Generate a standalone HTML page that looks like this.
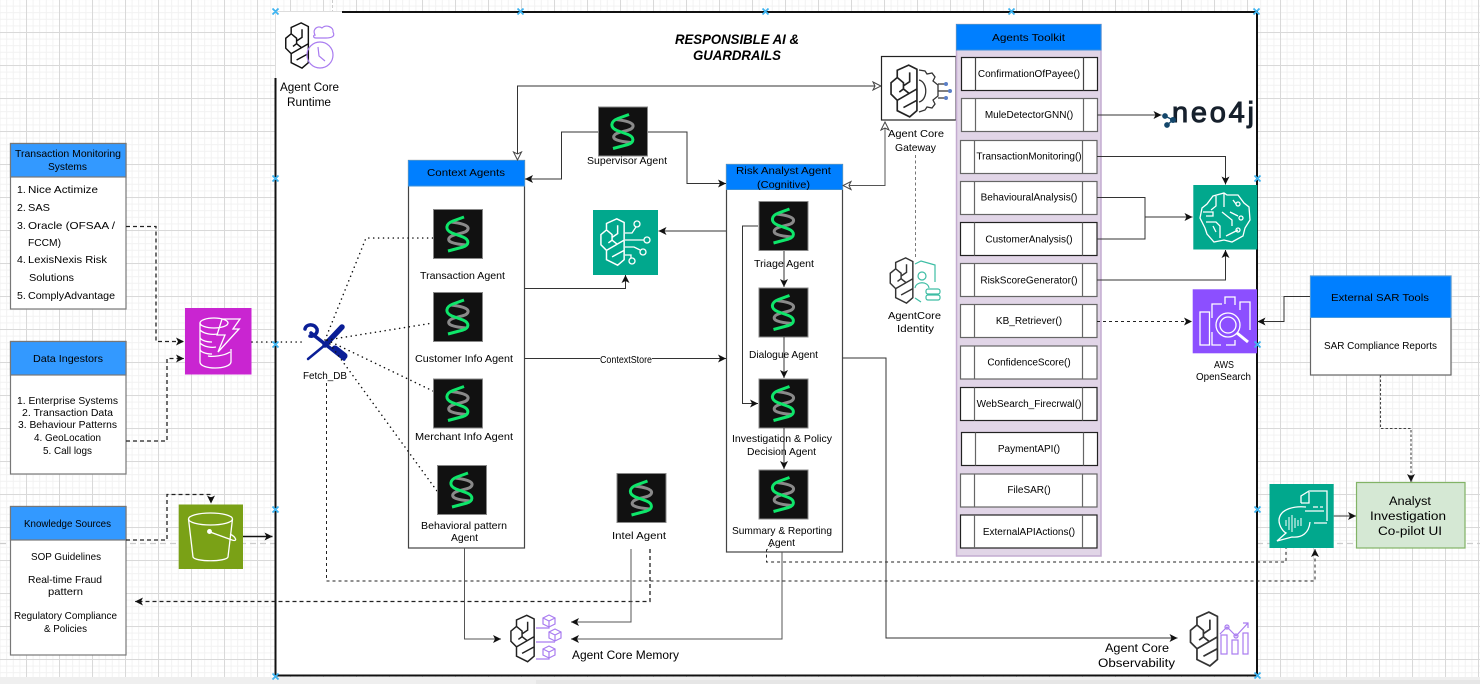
<!DOCTYPE html>
<html><head><meta charset="utf-8"><style>
html,body{margin:0;padding:0;background:#fff;width:1480px;height:684px;overflow:hidden}
svg{display:block}
text{font-family:"Liberation Sans",sans-serif;font-size:10.5px;fill:#000}
.a{font-size:10px}
.c{stroke:#333;stroke-width:1;fill:none}
.h{stroke:#555;stroke-width:1;fill:none}
.d{stroke:#222;stroke-width:1;stroke-dasharray:3 3;fill:none}
.d2{stroke:#222;stroke-width:1.3;stroke-dasharray:4 3;fill:none}
.dot{stroke:#111;stroke-width:1.5;stroke-dasharray:0.1 4.8;stroke-linecap:round;fill:none}
.w{stroke:#fff;stroke-width:1.3;fill:none}
.p{stroke:#a97cf0;stroke-width:1.2;fill:none}
.tg{fill:#fff;stroke:#666;stroke-width:1.2}
</style></head><body>
<svg width="1480" height="684" viewBox="0 0 1480 684" xmlns="http://www.w3.org/2000/svg">
<defs>
<pattern id="minor" patternUnits="userSpaceOnUse" x="26" y="-1" width="6.6" height="6.6"><rect width="6.6" height="1" fill="#f2f2f2"/><rect width="1" height="6.6" fill="#f2f2f2"/></pattern>
<pattern id="major" patternUnits="userSpaceOnUse" x="26" y="-1" width="33" height="33"><rect width="33" height="1" fill="#d9d9d9"/><rect width="1" height="33" fill="#d9d9d9"/></pattern>
<marker id="ar" markerUnits="userSpaceOnUse" markerWidth="10" markerHeight="10" refX="9" refY="5" orient="auto-start-reverse"><path d="M1,1 L9,5 L1,9 L3,5 Z" fill="#111"/></marker>
<marker id="ho" markerUnits="userSpaceOnUse" markerWidth="10" markerHeight="10" refX="9" refY="5" orient="auto-start-reverse"><path d="M1,1 L9,5 L1,9 L3,5 Z" fill="#fff" stroke="#444"/></marker>
<symbol id="brain" viewBox="0 0 28 52" overflow="visible"><path fill="none" stroke="currentColor" stroke-width="1.6" d="M18,1 L26,5 V45 L19,51 L7,45 V35 L1,29 V18 L7,13 V6 Z M7,13 L13,18 V21 M19,8 V17 L13,21 M9,27 L13,24 L18,28 M13,24 V21 M7,35 L26,24 M13,42 L26,35"/></symbol>
<symbol id="dna" viewBox="0 0 50 50"><rect x=".5" y=".5" width="49" height="49" fill="#111" stroke="#888"/><path d="M18,13 C27,14 36,16 35,20 C34,25 22,24 17,28 C12,33 22,35 33,36" fill="none" stroke="#8a8a8a" stroke-width="3"/><path d="M31,8 L20,12 C12,15 12,21 19,24 L30,28 C37,31 36,36 30,38 L15,42" fill="none" stroke="#0ee66a" stroke-width="3"/></symbol>
</defs>
<rect width="1480" height="684" fill="#fff"/>
<rect width="1480" height="677" fill="url(#minor)"/>
<rect width="1480" height="677" fill="url(#major)"/>
<path d="M0,543.5 H275 M1257,543.5 H1480" stroke="#ccc" stroke-width="1.2" stroke-dasharray="6 4"/>
<path d="M332.5,0 V11" stroke="#ccc" stroke-dasharray="3 2"/>
<rect y="677" width="1480" height="7" fill="#efefef"/><rect x="536" y="680" width="944" height="4" fill="#e6e6e6"/>

<!-- main frame -->
<rect x="275.5" y="11.5" width="981" height="664" fill="#fff"/>
<path d="M342,12 H1257 V675.5 H275.5 V78" fill="none" stroke="#111" stroke-width="2"/>
<path d="M275.5,78 V11.5 H342" fill="none" stroke="#ddd"/>

<!-- left boxes -->
<g stroke="#777" stroke-width="1.2">
<rect x="10.5" y="143.5" width="115.5" height="165.5" fill="#fff"/><rect x="10.5" y="143.5" width="115.5" height="33.5" fill="#3399ff"/>
<rect x="10.5" y="341.5" width="115.5" height="132.5" fill="#fff"/><rect x="10.5" y="341.5" width="115.5" height="33.5" fill="#3399ff"/>
<rect x="10.5" y="506.5" width="115.5" height="148.5" fill="#fff"/><rect x="10.5" y="506.5" width="115.5" height="33.5" fill="#3399ff"/>
</g>
<text x="15" y="157" textLength="106" lengthAdjust="spacingAndGlyphs">Transaction Monitoring</text>
<text x="48" y="170" textLength="39" lengthAdjust="spacingAndGlyphs">Systems</text>
<text x="17" y="193">1.</text><text x="28" y="193" textLength="70" lengthAdjust="spacingAndGlyphs">Nice Actimize</text>
<text x="17" y="211">2.</text><text x="28" y="211" textLength="22" lengthAdjust="spacingAndGlyphs">SAS</text>
<text x="17" y="229">3.</text><text x="28" y="229" textLength="87" lengthAdjust="spacingAndGlyphs">Oracle (OFSAA /</text>
<text x="28" y="246" textLength="33" lengthAdjust="spacingAndGlyphs">FCCM)</text>
<text x="17" y="263">4.</text><text x="28" y="263" textLength="79" lengthAdjust="spacingAndGlyphs">LexisNexis Risk</text>
<text x="29" y="281" textLength="45" lengthAdjust="spacingAndGlyphs">Solutions</text>
<text x="17" y="299">5.</text><text x="28" y="299" textLength="87" lengthAdjust="spacingAndGlyphs">ComplyAdvantage</text>
<text x="33" y="362" textLength="70" lengthAdjust="spacingAndGlyphs">Data Ingestors</text>
<text x="17" y="404" textLength="101" lengthAdjust="spacingAndGlyphs">1. Enterprise Systems</text>
<text x="22" y="416" textLength="91" lengthAdjust="spacingAndGlyphs">2. Transaction Data</text>
<text x="18" y="428" textLength="99" lengthAdjust="spacingAndGlyphs">3. Behaviour Patterns</text>
<text x="34" y="441" textLength="67" lengthAdjust="spacingAndGlyphs">4. GeoLocation</text>
<text x="43" y="454" textLength="49" lengthAdjust="spacingAndGlyphs">5. Call logs</text>
<text x="24" y="527" textLength="87" lengthAdjust="spacingAndGlyphs">Knowledge Sources</text>
<text x="31" y="560" textLength="70" lengthAdjust="spacingAndGlyphs">SOP Guidelines</text>
<text x="28" y="583" textLength="74" lengthAdjust="spacingAndGlyphs">Real-time Fraud</text>
<text x="48" y="595" textLength="35" lengthAdjust="spacingAndGlyphs">pattern</text>
<text x="14" y="619" textLength="103" lengthAdjust="spacingAndGlyphs">Regulatory Compliance</text>
<text x="44" y="632" textLength="43" lengthAdjust="spacingAndGlyphs">&amp; Policies</text>

<!-- DynamoDB -->
<rect x="185" y="308" width="66.5" height="66.5" fill="#c925d1"/>
<g class="w"><ellipse cx="214" cy="323" rx="14" ry="5"/><path d="M200,323 V337 C200,340 206,342 212,342 M200,330 C204,334 212,335 218,334 M200,337 V349 C200,352 206,354 212,354 M200,343 C204,347 212,348 216,347 M200,349 V362 C200,370 230,370 231,362 V349 M208,356 C212,357 224,356 230,352"/><path d="M222,319 H240 L233,329 H239 L218,352 L225,335 H217 Z"/></g>

<!-- S3 -->
<rect x="178.7" y="504.5" width="64.3" height="64.5" fill="#7aa116"/>
<g class="w" stroke-width="1.6"><ellipse cx="210.5" cy="519" rx="22" ry="6"/><path d="M188.5,519 L193,557 C195,562 226,562 228,557 L232.5,519"/><path d="M210,532 L232,540 C238,542 236,537 230,534"/><circle cx="209.5" cy="531.5" r="1.8" fill="#fff"/></g>

<!-- Fetch_DB tool icon -->
<g stroke="#0a1e96" fill="none" stroke-linecap="round"><path d="M342,327 L325,345" stroke-width="5.5"/><path d="M325,345 L308,359" stroke-width="2.5"/><path d="M311,333 L344,359" stroke-width="3.5"/><path d="M305,329 C306,324 314,323 317,329 C318,333 314,337 310,336" stroke-width="3.5"/><path d="M335,349 L344,356" stroke-width="7"/></g>
<text class="a" x="303" y="379" textLength="44" lengthAdjust="spacingAndGlyphs">Fetch_DB</text>

<!-- Context agents box -->
<rect x="408.5" y="160.5" width="116" height="387.5" fill="#fff" stroke="#444" stroke-width="1.2"/>
<rect x="408.5" y="160.5" width="116" height="25.5" fill="#007fff" stroke="#3a8fd8"/>
<text x="427" y="176" textLength="78" lengthAdjust="spacingAndGlyphs">Context Agents</text>

<!-- Risk box -->
<rect x="726.5" y="164.5" width="116" height="387.5" fill="#fff" stroke="#444" stroke-width="1.2"/>
<rect x="726.5" y="164.5" width="116" height="25" fill="#007fff" stroke="#3a8fd8"/>
<text x="736" y="174" textLength="95" lengthAdjust="spacingAndGlyphs">Risk Analyst Agent</text>
<text x="757" y="188" textLength="53" lengthAdjust="spacingAndGlyphs">(Cognitive)</text>

<!-- connectors -->
<path class="d2" d="M126,226.5 H156 V341.5 H184" marker-end="url(#ar)"/>
<path class="d2" d="M126,441 H167 V358.5 H184" marker-end="url(#ar)"/>
<path class="d2" d="M126,540 H167 V494.5 H211 V503.5" marker-end="url(#ar)"/>
<path d="M243,536.5 H272.5" stroke="#111" stroke-width="1.6" fill="none" marker-end="url(#ar)"/>
<path class="d2" d="M650,549 V601.5 H135" marker-end="url(#ar)"/>
<path class="dot" d="M252,342 H305"/>
<path class="dot" d="M325,340 L366,238 H433"/>
<path class="dot" d="M327,340 L433,323"/>
<path class="dot" d="M327,340 L433,391"/>
<path class="dot" d="M327,340 L437,491"/>
<path class="d" d="M326.5,383 V581 H1315 V549" marker-end="url(#ar)"/>
<path class="d" d="M772,545 L766.5,550 V562 H1286 V548"/>
<path class="c" d="M517.5,160 V86 H881" marker-start="url(#ho)" marker-end="url(#ho)"/>
<path class="c" d="M598,132 H561.5 V179 H525" marker-end="url(#ar)"/>
<path class="c" d="M648,132 H687 V183.5 H726" marker-end="url(#ar)"/>
<path class="h" d="M843,185.5 H885 V122" marker-start="url(#ho)" marker-end="url(#ho)"/>
<path d="M915.5,155 V258" stroke="#777" stroke-width="1" stroke-dasharray="3 2.5" fill="none"/>
<path class="c" d="M726,231 H658.5" marker-end="url(#ar)"/>
<path class="c" d="M524.5,288.5 H625.5 V275" marker-end="url(#ar)"/>
<path class="c" d="M524.5,358.5 H726" marker-end="url(#ar)"/>
<rect x="600" y="354" width="52" height="11" fill="#fff"/>
<text class="a" x="600" y="363" textLength="52" lengthAdjust="spacingAndGlyphs">ContextStore</text>
<path class="c" d="M758,226 H742.5 V403.5 H758" marker-end="url(#ar)"/>
<path class="c" d="M842.5,358 H886 V638 H1177.5" marker-end="url(#ar)"/>
<path class="h" d="M782,552 V639 H571" marker-end="url(#ar)"/>
<path class="h" d="M631,549 V622 H571" marker-end="url(#ar)"/>
<path class="h" d="M464.5,548 V639 H501" marker-end="url(#ar)"/>

<!-- agents -->
<use href="#dna" x="433" y="209" width="50" height="50"/>
<use href="#dna" x="433" y="292" width="50" height="50"/>
<use href="#dna" x="433" y="378.5" width="50" height="50"/>
<use href="#dna" x="437" y="465" width="50" height="50"/>
<use href="#dna" x="616.5" y="473" width="50" height="50"/>
<use href="#dna" x="598" y="106.5" width="50" height="50"/>
<use href="#dna" x="758.5" y="201" width="50" height="50"/>
<use href="#dna" x="758.5" y="287.5" width="50" height="50"/>
<use href="#dna" x="758.5" y="378.5" width="50" height="50"/>
<use href="#dna" x="758.5" y="469.5" width="50" height="50"/>
<path class="c" d="M784,251 V287" marker-end="url(#ar)"/>
<path class="c" d="M784,337 V378" marker-end="url(#ar)"/>
<path class="c" d="M784,428 V469" marker-end="url(#ar)"/>

<text x="420" y="279" textLength="85" lengthAdjust="spacingAndGlyphs">Transaction Agent</text>
<text x="415" y="362" textLength="98" lengthAdjust="spacingAndGlyphs">Customer Info Agent</text>
<text x="415" y="440" textLength="98" lengthAdjust="spacingAndGlyphs">Merchant Info Agent</text>
<text x="421" y="529" textLength="86" lengthAdjust="spacingAndGlyphs">Behavioral pattern</text>
<text x="451" y="541" textLength="27" lengthAdjust="spacingAndGlyphs">Agent</text>
<text x="612" y="539" textLength="54" lengthAdjust="spacingAndGlyphs">Intel Agent</text>
<text x="587" y="164" textLength="80" lengthAdjust="spacingAndGlyphs">Supervisor Agent</text>
<text x="754" y="267" textLength="60" lengthAdjust="spacingAndGlyphs">Triage Agent</text>
<text x="749" y="358" textLength="69" lengthAdjust="spacingAndGlyphs">Dialogue Agent</text>
<text x="732" y="442" textLength="100" lengthAdjust="spacingAndGlyphs">Investigation &amp; Policy</text>
<text x="747" y="455" textLength="69" lengthAdjust="spacingAndGlyphs">Decision Agent</text>
<text x="732" y="534" textLength="100" lengthAdjust="spacingAndGlyphs">Summary &amp; Reporting</text>
<text x="768" y="546" textLength="27" lengthAdjust="spacingAndGlyphs">Agent</text>

<!-- title -->
<text x="675" y="44" textLength="124" lengthAdjust="spacingAndGlyphs" style="font-size:14px;font-weight:bold;font-style:italic">RESPONSIBLE AI &amp;</text>
<text x="693" y="60" textLength="88" lengthAdjust="spacingAndGlyphs" style="font-size:14px;font-weight:bold;font-style:italic">GUARDRAILS</text>

<!-- runtime icon -->
<use href="#brain" x="284" y="22" width="27" height="47" color="#111"/>
<g class="p" stroke-width="1.5"><circle cx="320" cy="55" r="13"/><path d="M318,47 L319,56 L325,61"/><path d="M315,35 C312,29 318,25 322,28 C326,24 334,27 333,32 C336,37 330,38 326,38 H316 C313,38 313,35 315,35 Z" fill="#fff"/></g>
<text x="280" y="91" textLength="59" lengthAdjust="spacingAndGlyphs" style="font-size:11.5px">Agent Core</text>
<text x="287" y="106" textLength="44" lengthAdjust="spacingAndGlyphs" style="font-size:11.5px">Runtime</text>

<!-- ML icon center -->
<rect x="593" y="210" width="65" height="65" fill="#01a88d"/>
<use href="#brain" x="600" y="217" width="26" height="50" color="#fff"/>
<g class="w"><path d="M625,233 H632 L636,227 M625,240 H644 M625,247 H634 L640,250 M625,255 H631 V258"/><circle cx="637" cy="224" r="3"/><circle cx="647" cy="240" r="3"/><circle cx="643" cy="252" r="3"/><circle cx="632" cy="261" r="3"/></g>

<!-- Gateway -->
<rect x="881.5" y="56.5" width="74.5" height="63.5" fill="#fff" stroke="#222" stroke-width="1.2"/>
<use href="#brain" x="890" y="64" width="29" height="54" color="#222"/>
<g stroke="#333" fill="none" stroke-width="1.3"><path d="M919,70 L925,71 L927,74 L932,73 L935,77 L933,81 L938,85 V96 L933,100 L935,104 L932,108 L927,107 L925,110 L919,112 M919,80 C928,82 928,100 919,102"/><path d="M938,84 H945 M938,91 H949 M938,98 H945"/></g>
<circle cx="946" cy="84" r="2" fill="#5b7fc7"/><circle cx="950" cy="91" r="2" fill="#5b7fc7"/><circle cx="946" cy="98" r="2" fill="#5b7fc7"/>
<text x="888" y="137" textLength="56" lengthAdjust="spacingAndGlyphs">Agent Core</text>
<text x="895" y="151" textLength="41" lengthAdjust="spacingAndGlyphs">Gateway</text>

<!-- Identity -->
<use href="#brain" x="889" y="257" width="26" height="47" color="#333"/>
<g stroke="#3dbda4" fill="none" stroke-width="1.2"><path d="M915,264 L921,261 L935,265 V282 M915,298 L921,302"/><circle cx="922" cy="276" r="4"/><path d="M915,288 C916,281 928,281 929,288"/><rect x="926" y="289" width="14" height="5" rx="2"/><rect x="926" y="295" width="14" height="5" rx="2"/></g>
<text x="888" y="319" textLength="53" lengthAdjust="spacingAndGlyphs">AgentCore</text>
<text x="897" y="332" textLength="37" lengthAdjust="spacingAndGlyphs">Identity</text>

<!-- Toolkit -->
<rect x="956.5" y="24.5" width="144.5" height="531.5" fill="#e1d5e7" stroke="#c3abd0" stroke-width="1.5"/>
<rect x="956.5" y="24.5" width="144.5" height="25.5" fill="#007fff" stroke="#3a8fd8"/>
<text x="992" y="41" textLength="73" lengthAdjust="spacingAndGlyphs">Agents Toolkit</text>
<g class="tg">
<rect x="961.5" y="57.5" width="136" height="33" stroke="#222"/><path d="M975.5,57.5 V90.5 M1083.5,57.5 V90.5" stroke="#444" fill="none"/>
<rect x="961.5" y="98.5" width="136" height="33"/><path d="M975.5,98.5 V131.5 M1083.5,98.5 V131.5" fill="none"/>
<rect x="960.5" y="140.5" width="136.5" height="33"/><path d="M974.5,140.5 V173.5 M1082.5,140.5 V173.5" fill="none"/>
<rect x="960.5" y="181.5" width="136.5" height="33"/><path d="M974.5,181.5 V214.5 M1082.5,181.5 V214.5" fill="none"/>
<rect x="960.5" y="222.5" width="136.5" height="33" stroke="#222"/><path d="M974.5,222.5 V255.5 M1082.5,222.5 V255.5" fill="none"/>
<rect x="960.5" y="263.5" width="136.5" height="33"/><path d="M974.5,263.5 V296.5 M1082.5,263.5 V296.5" fill="none"/>
<rect x="960.5" y="304.5" width="136.5" height="33"/><path d="M974.5,304.5 V337.5 M1082.5,304.5 V337.5" fill="none"/>
<rect x="960.5" y="346" width="136.5" height="33"/><path d="M974.5,346 V379 M1082.5,346 V379" fill="none"/>
<rect x="960.5" y="387.5" width="136.5" height="33" stroke="#222"/><path d="M974.5,387.5 V420.5 M1082.5,387.5 V420.5" fill="none"/>
<rect x="961.5" y="432.5" width="136" height="33" stroke="#222"/><path d="M975.5,432.5 V465.5 M1083.5,432.5 V465.5" fill="none"/>
<rect x="960.5" y="474" width="136.5" height="33"/><path d="M974.5,474 V507 M1082.5,474 V507" fill="none"/>
<rect x="960.5" y="515" width="136.5" height="33" stroke="#222"/><path d="M974.5,515 V548 M1082.5,515 V548" fill="none"/>
</g>
<g class="a" text-anchor="middle">
<text class="a" x="1029" y="77">ConfirmationOfPayee()</text>
<text class="a" x="1029" y="118">MuleDetectorGNN()</text>
<text class="a" x="1029" y="159.5">TransactionMonitoring()</text>
<text class="a" x="1029" y="200.5">BehaviouralAnalysis()</text>
<text class="a" x="1029" y="242.5">CustomerAnalysis()</text>
<text class="a" x="1029" y="283.5">RiskScoreGenerator()</text>
<text class="a" x="1029" y="324">KB_Retriever()</text>
<text class="a" x="1029" y="365.5">ConfidenceScore()</text>
<text class="a" x="1029" y="407">WebSearch_Firecrwal()</text>
<text class="a" x="1029" y="452">PaymentAPI()</text>
<text class="a" x="1029" y="493">FileSAR()</text>
<text class="a" x="1029" y="535">ExternalAPIActions()</text>
</g>

<!-- toolkit connectors -->
<path class="c" d="M1097.5,115 H1161.5" marker-end="url(#ar)"/>
<path class="c" d="M1097,156.5 H1225.5 V184.5" marker-end="url(#ar)"/>
<path class="c" d="M1097,197.5 H1145 V239 H1097"/>
<path class="c" d="M1145,217 H1192.5" marker-end="url(#ar)"/>
<path class="c" d="M1097,280 H1225.5 V250" marker-end="url(#ar)"/>
<path class="d" d="M1097,321.5 H1192" marker-end="url(#ar)"/>
<path class="c" d="M1310,296.5 H1284 V321.5 H1257.5" marker-end="url(#ar)"/>
<path d="M1380.5,375 V428.5 H1411 V482" fill="none" stroke="#444" stroke-width="1.1" stroke-dasharray="2.5 2" marker-end="url(#ar)"/>
<path class="c" d="M1333.7,516 H1356" marker-end="url(#ar)"/>

<!-- neo4j -->
<text x="1172" y="122" textLength="82" lengthAdjust="spacing" style="font-size:29px;fill:#16202c;stroke:#16202c;stroke-width:1">neo4j</text>
<g fill="#14476b" stroke="#14476b" stroke-width="1.3"><circle cx="1165" cy="116" r="2.2"/><circle cx="1173" cy="120" r="2.4"/><circle cx="1167" cy="125" r="2.2"/><path d="M1165,116 L1173,120 L1167,125" fill="none"/></g>

<!-- Sagemaker -->
<rect x="1193.3" y="185" width="64" height="64.5" fill="#01a88d"/>
<g class="w" stroke-width="1.4"><path d="M1213,196 L1224,193 L1227,195 L1238,195 L1244,203 L1249,207 L1250,220 L1245,228 L1243,236 L1232,242 L1224,240 L1214,242 L1207,234 L1205,228 L1200,218 L1202,208 L1207,204 Z"/><path d="M1216,196 V206 L1211,210 M1224,193 V207 M1233,200 L1236,204 M1203,212 H1213 V216 H1206 M1206,222 H1216 L1220,226 V238 M1222,212 L1232,220 V226 M1226,236 L1238,230 M1213,226 L1216,232"/><circle cx="1238" cy="204" r="2"/><circle cx="1241" cy="218" r="2"/><circle cx="1238" cy="230" r="2"/><path d="M1230,212 L1238,216"/></g>

<!-- OpenSearch -->
<rect x="1192.7" y="289.3" width="64.3" height="64" fill="#8c4fff"/>
<g class="w" stroke-width="1.5"><rect x="1200" y="312" width="9.5" height="33"/><path d="M1212,318 V304 H1222 M1225,304 V297 H1235 V305 M1240,310 V302 H1250 V330 M1212,332 V345 H1221 M1226,345 H1235 V340"/><circle cx="1228" cy="325" r="12"/><circle cx="1228" cy="325" r="8"/><path d="M1237,333 L1248,342" stroke-width="3"/></g>
<text class="a" x="1214" y="368" textLength="20" lengthAdjust="spacingAndGlyphs">AWS</text>
<text class="a" x="1196" y="380" textLength="55" lengthAdjust="spacingAndGlyphs">OpenSearch</text>

<!-- External SAR -->
<rect x="1310.5" y="276" width="140.5" height="99" fill="#fff" stroke="#666" stroke-width="1.2"/>
<rect x="1310.5" y="276" width="140.5" height="41.5" fill="#007fff" stroke="#4a9be0"/>
<text x="1331" y="301" textLength="98" lengthAdjust="spacingAndGlyphs">External SAR Tools</text>
<text x="1324" y="349" textLength="113" lengthAdjust="spacingAndGlyphs">SAR Compliance Reports</text>

<!-- Chat/doc -->
<rect x="1269.5" y="484" width="64.2" height="64" fill="#01a88d"/>
<g class="w" stroke-width="1.3"><path d="M1301,503 V496 L1309,491 H1327 V521 M1301,503 H1309 V492"/><path d="M1313,507 H1318 M1320,507 H1323 M1305,511 H1324 M1314,523 H1327"/><path d="M1306,507 C1296,506 1280,508 1279,520 C1279,527 1284,532 1286,533 L1277,541 L1292,537 C1302,538 1309,533 1310,522"/><path d="M1286,520 V526 M1289,517 V530 M1292,515 V532 M1295,518 V528 M1298,520 V526 M1301,518 V526" stroke-width="1"/></g>

<!-- Analyst -->
<rect x="1356.5" y="482.5" width="108.5" height="65.5" fill="#d5e8d4" stroke="#82b366" stroke-width="1.2"/>
<text x="1389" y="505" textLength="42" lengthAdjust="spacingAndGlyphs" style="font-size:11.5px">Analyst</text>
<text x="1370" y="520" textLength="76" lengthAdjust="spacingAndGlyphs" style="font-size:11.5px">Investigation</text>
<text x="1378" y="535" textLength="64" lengthAdjust="spacingAndGlyphs" style="font-size:11.5px">Co-pilot UI</text>

<!-- Memory -->
<use href="#brain" x="510" y="613" width="26" height="51" color="#222"/>
<g class="p"><path d="M536,628 H549 V626 M536,642 H555 M536,659 H549 V657"/><path d="M549,615 L555,618 V624 L549,627 L543,624 V618 Z M543,618 L549,621 L555,618 M549,621 V627"/><path d="M555,629 L561,632 V638 L555,641 L549,638 V632 Z M549,632 L555,635 L561,632 M555,635 V641"/><path d="M549,646 L555,649 V655 L549,658 L543,655 V649 Z M543,649 L549,652 L555,649 M549,652 V658"/></g>
<text x="572" y="659" textLength="107" lengthAdjust="spacingAndGlyphs" style="font-size:11.5px">Agent Core Memory</text>

<!-- Observability -->
<use href="#brain" x="1189" y="611" width="31" height="56" color="#333"/>
<g class="p" stroke-width="1.3"><rect x="1221" y="635" width="6" height="19"/><rect x="1232" y="640" width="6" height="14"/><rect x="1243" y="633" width="5" height="21"/><path d="M1220,634 L1227,627 L1236,636 L1248,623 M1243,623 H1248 V628"/><circle cx="1227" cy="627" r="2"/><circle cx="1236" cy="636" r="2"/></g>
<text x="1105" y="652" textLength="64" lengthAdjust="spacingAndGlyphs" style="font-size:11.5px">Agent Core</text>
<text x="1098" y="667" textLength="77" lengthAdjust="spacingAndGlyphs" style="font-size:11.5px">Observability</text>

<!-- blue markers -->
<g stroke="#3fb4f0" stroke-width="1.8" fill="none">
<path d="M272.5,8.5 l6,6 m0,-6 l-6,6 M517.5,8.5 l6,6 m0,-6 l-6,6 M762.5,8.5 l6,6 m0,-6 l-6,6 M1008.5,8.5 l6,6 m0,-6 l-6,6 M1253.5,8.5 l6,6 m0,-6 l-6,6"/>
<path d="M272.5,175.5 l6,6 m0,-6 l-6,6 M272.5,341.5 l6,6 m0,-6 l-6,6 M272.5,506.5 l6,6 m0,-6 l-6,6 M272.5,673.5 l6,6 m0,-6 l-6,6"/>
<path d="M1254.5,175.5 l6,6 m0,-6 l-6,6 M1254.5,341.5 l6,6 m0,-6 l-6,6 M1254.5,506.5 l6,6 m0,-6 l-6,6 M1254.5,672.5 l6,6 m0,-6 l-6,6"/>
</g>
</svg>
</body></html>
